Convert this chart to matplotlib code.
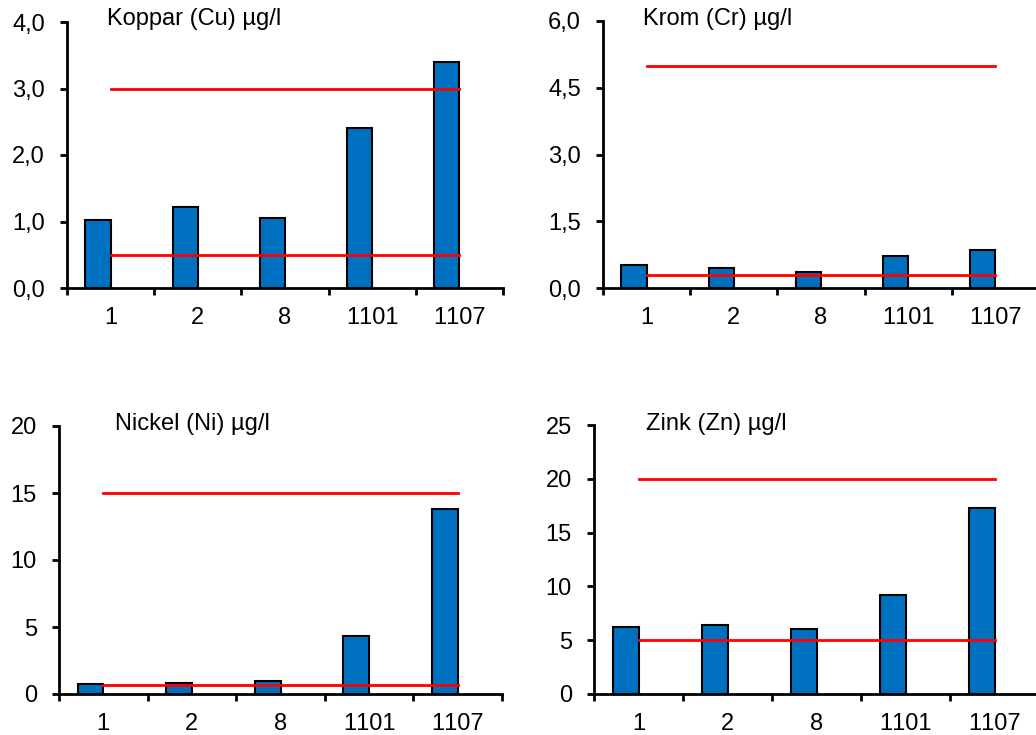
import matplotlib
matplotlib.use('Agg')
import matplotlib.pyplot as plt
import numpy as np

plt.rcParams['font.family'] = ['Liberation Sans', 'DejaVu Sans']
plt.rcParams['text.kerning_factor'] = 10  # switch off digit kerning like the original

# Sample stations
stations = ['1', '2', '8', '1101', '1107']

# Measured concentrations (µg/l)
cu_values = [1.03, 1.22, 1.05, 2.41, 3.40]
cr_values = [0.51, 0.46, 0.37, 0.72, 0.86]
ni_values = [0.77, 0.80, 0.99, 4.30, 13.84]
zn_values = [6.19, 6.44, 6.00, 9.16, 17.27]

# Reference levels (red lines)
cu_limits = [3.0, 0.5]
cr_limits = [5.0, 0.3]
ni_limits = [15.0, 0.7]
zn_limits = [20.0, 5.0]

titles = ['Koppar (Cu) µg/l', 'Krom (Cr) µg/l', 'Nickel (Ni) µg/l', 'Zink (Zn) µg/l']
y_max = [4.0, 6.0, 20, 25]
y_step = [1.0, 1.5, 5, 5]
decimals = [1, 1, 0, 0]

W, H = 1036, 735
# axes boxes in pixels: left, top, right, bottom
boxes = [(67, 22, 503, 288), (603, 21, 1039, 288),
         (59, 426, 502, 694), (594, 425, 1039, 694)]
title_x = [0.092, 0.092, 0.126, 0.117]
title_y = [0.989, 0.985, 0.985, 0.981]

fig = plt.figure(figsize=(W / 100, H / 100), dpi=100)

all_values = [cu_values, cr_values, ni_values, zn_values]
all_limits = [cu_limits, cr_limits, ni_limits, zn_limits]

x = np.arange(len(stations))
bar_w = 0.29

for i in range(4):
    l, t, r, b = boxes[i]
    ax = fig.add_axes([l / W, 1 - b / H, (r - l) / W, (b - t) / H])
    ax.bar(x, all_values[i], width=-bar_w, align='edge', color='#0070C0',
           edgecolor='black', linewidth=1.5, zorder=2)
    for lim in all_limits[i]:
        ax.plot([x[0], x[-1]], [lim, lim], color='#FF0000', linewidth=2, zorder=3)

    ax.set_xlim(-0.5, len(stations) - 0.5)
    ax.set_ylim(0, y_max[i])
    ticks = np.arange(0, y_max[i] + 1e-9, y_step[i])
    ax.set_yticks(ticks)
    if decimals[i]:
        ax.set_yticklabels([f'{v:.1f}'.replace('.', ',') for v in ticks])
    else:
        ax.set_yticklabels([f'{int(v)}' for v in ticks])

    ax.set_xticks(x)
    ax.set_xticklabels(stations)
    ax.set_xticks(np.arange(-0.5, len(stations)), minor=True)
    ax.tick_params(axis='x', which='major', length=0, pad=14, labelsize=17)
    ax.tick_params(axis='x', which='minor', length=5, width=2, direction='out')
    ax.tick_params(axis='y', length=5, width=2, direction='out', pad=11, labelsize=17)

    for s in ['top', 'right']:
        ax.spines[s].set_visible(False)
    for s in ['left', 'bottom']:
        ax.spines[s].set_linewidth(2)
    ax.patch.set_alpha(0)

    ax.text(title_x[i], title_y[i], titles[i], transform=ax.transAxes,
            fontsize=17, ha='left', va='baseline', clip_on=False)

fig.savefig('out.png', dpi=100)
